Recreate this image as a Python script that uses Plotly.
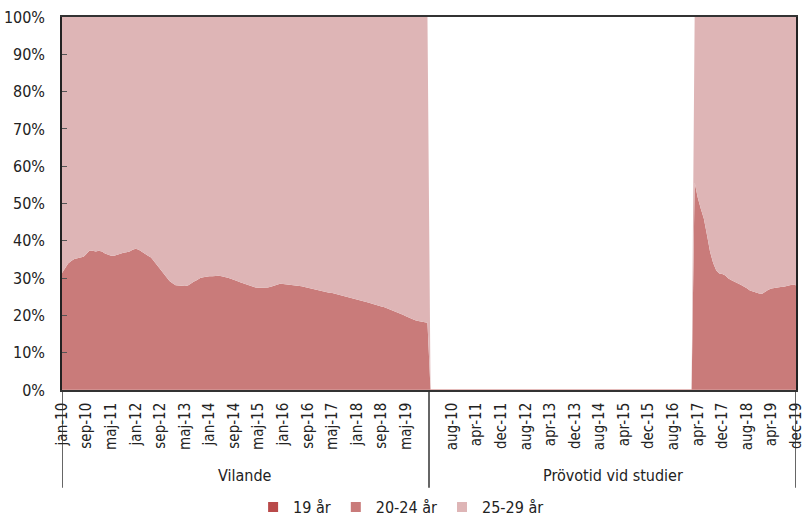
import plotly.graph_objects as go

# month labels (Swedish), jan-10 .. dec-19
MONTHS = ["jan", "feb", "mar", "apr", "maj", "jun", "jul", "aug", "sep", "okt", "nov", "dec"]
month_labels = [f"{m}-{y}" for y in range(10, 20) for m in MONTHS]

groups = ["Vilande", "Prövotid vid studier"]

# Vilande, share in % per month
vil_19 = [0.1] * 120
vil_20_24 = [
    31.3, 32.5, 33.8, 34.5, 35.0, 35.2, 35.3, 35.6, 36.4, 37.3, 37.2, 37.0,
    37.2, 37.0, 36.5, 36.1, 35.9, 35.9, 36.2, 36.6, 36.7, 36.8, 37.0, 37.5,
    37.8, 37.5, 36.9, 36.3, 35.9, 35.4, 34.3, 33.2, 32.1, 31.1, 29.9, 29.1,
    28.5, 28.0, 27.9, 27.8, 27.8, 27.9, 28.5, 29.0, 29.4, 29.9, 30.1, 30.3,
    30.4, 30.4, 30.5, 30.5, 30.4, 30.3, 30.0, 29.7, 29.5, 29.1, 28.8, 28.5,
    28.2, 27.9, 27.6, 27.4, 27.3, 27.3, 27.3, 27.4, 27.6, 27.9, 28.2, 28.4,
    28.3, 28.2, 28.2, 28.1, 28.0, 27.8, 27.7, 27.5, 27.3, 27.1, 26.8, 26.6,
    26.4, 26.3, 26.2, 26.0, 25.9, 25.7, 25.5, 25.3, 25.0, 24.7, 24.5, 24.3,
    24.1, 23.9, 23.7, 23.5, 23.3, 23.0, 22.7, 22.5, 22.3, 22.1, 21.8, 21.5,
    21.1, 20.7, 20.4, 20.1, 19.7, 19.3, 18.9, 18.6, 18.4, 18.2, 18.1, 17.9,
]
vil_25_29 = [
    68.6, 67.4, 66.1, 65.4, 64.9, 64.7, 64.6, 64.3, 63.5, 62.6, 62.7, 62.9,
    62.7, 62.9, 63.4, 63.8, 64.0, 64.0, 63.7, 63.3, 63.2, 63.1, 62.9, 62.4,
    62.1, 62.4, 63.0, 63.6, 64.0, 64.5, 65.6, 66.7, 67.8, 68.8, 70.0, 70.8,
    71.4, 71.9, 72.0, 72.1, 72.1, 72.0, 71.4, 70.9, 70.5, 70.0, 69.8, 69.6,
    69.5, 69.5, 69.4, 69.4, 69.5, 69.6, 69.9, 70.2, 70.4, 70.8, 71.1, 71.4,
    71.7, 72.0, 72.3, 72.5, 72.6, 72.6, 72.6, 72.5, 72.3, 72.0, 71.7, 71.5,
    71.6, 71.7, 71.7, 71.8, 71.9, 72.1, 72.2, 72.4, 72.6, 72.8, 73.1, 73.3,
    73.5, 73.6, 73.7, 73.9, 74.0, 74.2, 74.4, 74.6, 74.9, 75.2, 75.4, 75.6,
    75.8, 76.0, 76.2, 76.4, 76.6, 76.9, 77.2, 77.4, 77.6, 77.8, 78.1, 78.4,
    78.8, 79.2, 79.5, 79.8, 80.2, 80.6, 81.0, 81.3, 81.5, 81.7, 81.8, 82.0,
]

# Prövotid vid studier: empty until feb-17, data mar-17 .. dec-19
pro_empty = [0] * 86
pro_19 = [0.1] * 34
pro_20_24 = [
    55.5, 51.5, 48.5, 45.8, 41.5, 37.0, 34.0, 32.0, 31.1, 31.0,
    30.6, 29.8, 29.3, 28.8, 28.5, 28.1, 27.7, 27.2, 26.6, 26.3,
    26.2, 25.8, 25.7, 26.3, 26.8, 27.1, 27.3, 27.4, 27.5, 27.6,
    27.7, 28.0, 28.2, 28.0,
]
pro_25_29 = [
    44.4, 48.4, 51.4, 54.1, 58.4, 62.9, 65.9, 67.9, 68.8, 68.9,
    69.3, 70.1, 70.6, 71.1, 71.4, 71.8, 72.2, 72.7, 73.3, 73.6,
    73.7, 74.1, 74.2, 73.6, 73.1, 72.8, 72.6, 72.5, 72.4, 72.3,
    72.2, 71.9, 71.7, 71.9,
]

series = {
    "19 år": vil_19 + pro_empty + pro_19,
    "20-24 år": vil_20_24 + pro_empty + pro_20_24,
    "25-29 år": vil_25_29 + pro_empty + pro_25_29,
}
colors = {"19 år": "#B94A4A", "20-24 år": "#C97B7A", "25-29 år": "#DEB5B6"}

n_group = len(month_labels)
x_idx = list(range(2 * n_group))

# Excel-style label skip: every 8th month
tick_idx = list(range(0, n_group, 8)) + list(range(n_group + 7, 2 * n_group, 8))
tick_txt = [(month_labels * 2)[i] for i in tick_idx]

FONT = "DejaVu Sans Condensed, Liberation Sans Narrow, sans-serif"

fig = go.Figure()
for name, vals in series.items():
    fig.add_trace(go.Scatter(
        x=x_idx, y=vals, name=name, mode="lines", stackgroup="one",
        line=dict(width=0, color=colors[name]), fillcolor=colors[name],
        showlegend=False, hoverinfo="skip",
    ))
    # square legend markers
    fig.add_trace(go.Scatter(
        x=[None], y=[None], name=name, mode="markers",
        marker=dict(symbol="square", size=10, color=colors[name]),
    ))

# group labels and dividers under the axis
for g, name in enumerate(groups):
    fig.add_annotation(
        x=g * n_group + (n_group - 1) / 2, y=-0.228, xref="x", yref="paper",
        text=name, showarrow=False, yanchor="middle",
        font=dict(family=FONT, size=16, color="#222222"),
    )
for xv in [0, n_group - 0.5, 2 * n_group - 1]:
    fig.add_shape(type="line", xref="x", yref="paper", x0=xv, x1=xv, y0=0, y1=-0.262,
                  line=dict(color="#333333", width=1.5))

fig.update_layout(
    width=803, height=518,
    margin=dict(l=62, r=7, t=17, b=128, autoexpand=False),
    paper_bgcolor="white", plot_bgcolor="white",
    font=dict(family=FONT, size=16, color="#222222"),
    showlegend=True,
    legend=dict(orientation="h", x=0.462, xanchor="center", traceorder="normal",
                y=-0.314, yanchor="middle", itemwidth=30,
                font=dict(family=FONT, size=16)),
    xaxis=dict(
        range=[0, 2 * n_group - 1], tickmode="array", tickvals=tick_idx, ticktext=tick_txt,
        tickangle=-90, showgrid=False, zeroline=False, ticks="",
        tickfont=dict(family=FONT, size=15, color="#222222"),
        showline=True, mirror=True, linecolor="#333333", linewidth=1.5,
        automargin=False, ticklabeloverflow="allow", ticklabelstandoff=5,
    ),
    yaxis=dict(
        range=[0, 100], dtick=10, ticksuffix="%", showgrid=False, zeroline=False,
        ticks="inside", ticklen=5, tickcolor="#555555",
        showline=True, mirror=True, linecolor="#222222", linewidth=1.5,
        automargin=False, ticklabeloverflow="allow", ticklabelstandoff=12,
    ),
)

# drop the default page margin so the figure fills the window
fig.write_html("out.html", config={"displayModeBar": False},
               post_script="document.body.style.margin='0';document.body.style.overflow='hidden';")
